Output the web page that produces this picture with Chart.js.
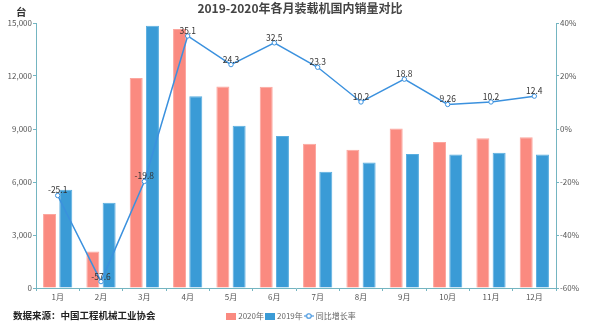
<!DOCTYPE html>
<html><head><meta charset="utf-8">
<script src="https://cdn.jsdelivr.net/npm/chart.js@4/dist/chart.umd.min.js"></script>
<style>
html,body{margin:0;padding:0;background:#fff;}
#wrap{position:relative;width:600px;height:322px;overflow:hidden;}
canvas{position:absolute;left:0;top:0;}
.t{position:absolute;font-family:"Noto Sans CJK SC","Noto Sans",sans-serif;white-space:nowrap;}
</style></head><body>
<div id="wrap">
<canvas id="c" width="600" height="322"></canvas>
<div class="t" style="left:0;width:600px;text-align:center;top:-1px;font-size:12px;font-weight:bold;color:#444;">2019-2020年各月装载机国内销量对比</div>
<div class="t" style="left:16px;top:4px;font-size:10.5px;font-weight:bold;color:#333;">台</div>
<div class="t" style="left:13px;top:308px;font-size:9.5px;font-weight:bold;color:#222;">数据来源：中国工程机械工业协会</div>
</div>
<script>
const months = ['1月','2月','3月','4月','5月','6月','7月','8月','9月','10月','11月','12月'];
const sales2020 = [4190, 2060, 11890, 14660, 11410, 11390, 8170, 7830, 9030, 8260, 8470, 8530];
const sales2019 = [5560, 4830, 14850, 10850, 9190, 8600, 6580, 7110, 7590, 7560, 7660, 7560];
const growth = [-25.1, -57.6, -19.8, 35.1, 24.3, 32.5, 23.3, 10.2, 18.8, 9.26, 10.2, 12.4];
const seriesNames = ['2020年', '2019年', '同比增长率'];
const leftRange = [0, 15000, 3000];
const rightRange = [-60, 40, 20];

const RED = '#fa8a80', BLUE = '#3a9bd6', LINE = '#3b91de', AXIS = '#74b5c1';
const FONT = '"Noto Sans CJK SC","Noto Sans",sans-serif';

function boxImg(color){
  const c=document.createElement('canvas'); c.width=10; c.height=7;
  const x=c.getContext('2d'); x.fillStyle=color; x.fillRect(0,0,10,7); return c;
}
function lineImg(){
  const c=document.createElement('canvas'); c.width=10; c.height=8;
  const x=c.getContext('2d'); x.strokeStyle=LINE; x.lineWidth=1.1;
  x.beginPath(); x.moveTo(0,4); x.lineTo(10,4); x.stroke();
  x.beginPath(); x.arc(5,4,2.3,0,Math.PI*2); x.fillStyle='#fff'; x.fill(); x.stroke();
  return c;
}

const pointLabels = {
  id:'pointLabels',
  afterDatasetsDraw(chart){
    const meta = chart.getDatasetMeta(2);
    const ctx = chart.ctx;
    ctx.save();
    ctx.font = '8.5px ' + FONT;
    ctx.fillStyle = '#333';
    ctx.textAlign = 'center';
    ctx.textBaseline = 'bottom';
    meta.data.forEach((pt,i)=>{ ctx.fillText(String(growth[i]), pt.x, pt.y - 1); });
    ctx.restore();
  }
};

new Chart(document.getElementById('c'), {
  type:'bar',
  data:{
    labels: months,
    datasets:[
      {label:seriesNames[0], data:sales2020, backgroundColor:RED, borderColor:'#fca69e', borderWidth:1, yAxisID:'y', order:1, categoryPercentage:0.75, barPercentage:0.8},
      {label:seriesNames[1], data:sales2019, backgroundColor:BLUE, borderColor:'#5aaee0', borderWidth:1, yAxisID:'y', order:1, categoryPercentage:0.75, barPercentage:0.8},
      {type:'line', label:seriesNames[2], data:growth, yAxisID:'y1', order:0, borderColor:LINE, borderWidth:1.5,
       pointRadius:2.2, pointBackgroundColor:'#fff', pointBorderColor:LINE, pointBorderWidth:1, tension:0, fill:false}
    ]
  },
  options:{
    responsive:false, devicePixelRatio:1, animation:false, locale:'en-US',
    layout:{padding:{top:23,left:0,right:16,bottom:0}},
    plugins:{
      title:{display:false},
      tooltip:{enabled:false},
      legend:{
        position:'bottom', maxHeight:13,
        labels:{
          usePointStyle:true, pointStyleWidth:6, padding:3, color:'#666',
          font:{size:8, family:FONT},
          generateLabels(){
            return [
              {text:seriesNames[0], pointStyle:boxImg(RED), fillStyle:RED, strokeStyle:RED, lineWidth:0, datasetIndex:0, hidden:false, fontColor:'#666'},
              {text:seriesNames[1], pointStyle:boxImg(BLUE), fillStyle:BLUE, strokeStyle:BLUE, lineWidth:0, datasetIndex:1, hidden:false, fontColor:'#666'},
              {text:seriesNames[2], pointStyle:lineImg(), fillStyle:'#fff', strokeStyle:LINE, lineWidth:0, datasetIndex:2, hidden:false, fontColor:'#666'}
            ];
          }
        }
      }
    },
    scales:{
      x:{
        afterFit(s){ s.height = 21; },
        border:{color:AXIS, width:1},
        grid:{drawOnChartArea:false, drawTicks:true, tickLength:3, color:AXIS, offset:true},
        ticks:{color:'#555', font:{size:8, family:FONT}, padding:1, maxRotation:0, autoSkip:false}
      },
      y:{
        position:'left', min:leftRange[0], max:leftRange[1],
        afterFit(s){ s.width = 36; },
        border:{color:AXIS, width:1},
        grid:{drawOnChartArea:false, drawTicks:true, tickLength:3, color:AXIS},
        ticks:{stepSize:leftRange[2], color:'#555', font:{size:8, family:FONT}, padding:1}
      },
      y1:{
        position:'right', min:rightRange[0], max:rightRange[1],
        afterFit(s){ s.width = 28; },
        border:{color:AXIS, width:1},
        grid:{drawOnChartArea:false, drawTicks:true, tickLength:3, color:AXIS},
        ticks:{stepSize:rightRange[2], color:'#555', font:{size:8, family:FONT}, padding:1, callback:v=>v+'%'}
      }
    }
  },
  plugins:[pointLabels]
});
</script>
</body></html>
